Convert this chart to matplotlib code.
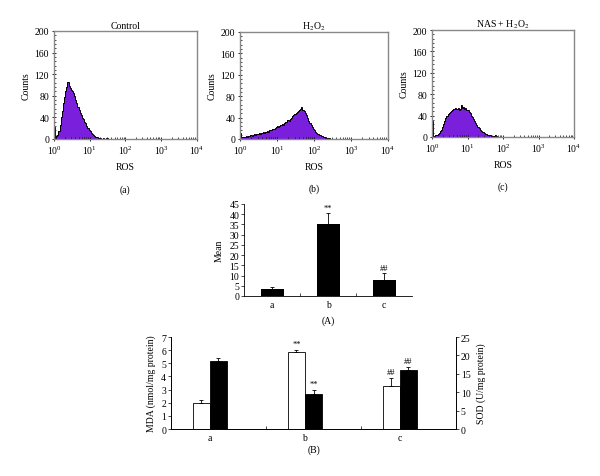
import numpy as np
import matplotlib
matplotlib.use("Agg")
import matplotlib.pyplot as plt
from matplotlib.ticker import MultipleLocator, LogLocator, NullFormatter

plt.rcParams['font.family'] = ['Liberation Serif', 'DejaVu Serif']
plt.rcParams['mathtext.fontset'] = 'stix'
plt.rcParams['font.size'] = 7

# ---------------- data ----------------
ch_per_decade = 32
hist_titles = ["Control", "H$_2$O$_2$", "NAS + H$_2$O$_2$"]
hist_panels = ["(a)", "(b)", "(c)"]
counts_control = [22, 2, 5, 8, 15, 26, 40, 52, 67, 77, 89, 96, 105, 99, 94, 91,
                  89, 85, 80, 73, 66, 60, 53, 48, 45, 39, 37, 31, 29, 24, 20, 17,
                  14, 11, 9, 7, 5, 4, 3, 2, 1, 1, 0, 0, 1, 0, 0, 1, 0]
counts_h2o2 = [12, 4, 3, 4, 3, 5, 4, 6, 5, 7, 6, 8, 9, 8, 10, 9,
               11, 10, 12, 11, 13, 12, 14, 15, 14, 16, 17, 16, 19, 18, 21, 22,
               25, 23, 24, 27, 28, 26, 29, 31, 32, 35, 34, 38, 40, 43, 44, 47,
               48, 51, 52, 54, 56, 60, 55, 53, 48, 45, 39, 34, 29, 26, 22, 19,
               16, 14, 11, 10, 8, 7, 6, 5, 4, 3, 2, 2, 1, 1, 0]
counts_nas = [30, 1, 2, 3, 4, 6, 8, 11, 14, 19, 24, 29, 35, 40, 43, 44,
              47, 48, 50, 52, 53, 54, 52, 55, 51, 53, 59, 55, 57, 53, 55, 51,
              50, 46, 44, 40, 37, 34, 30, 26, 23, 19, 16, 14, 12, 10, 9, 7,
              6, 5, 4, 3, 3, 2, 2, 1, 2, 3, 1, 0]
hist_counts = [counts_control, counts_h2o2, counts_nas]

groups = ["a", "b", "c"]
mean_vals = [3.6, 35.0, 7.8]
mean_err = [1.0, 5.5, 3.2]
mean_marks = ["", "**", "##"]

mda_vals = [1.98, 5.88, 3.25]
mda_err = [0.25, 0.16, 0.63]
mda_marks = ["", "**", "##"]
sod_vals = [18.6, 9.5, 16.1]
sod_err = [0.6, 1.1, 0.7]
sod_marks = ["", "**", "##"]

# ---------------- figure ----------------
fig = plt.figure(figsize=(6.0, 4.77), dpi=100)
purple = '#7a1fdc'

hist_boxes = [(0.090, 0.7065, 0.238, 0.2265),
              (0.400, 0.7065, 0.2467, 0.2245),
              (0.720, 0.7107, 0.2367, 0.2243)]

for box, counts, title, pl in zip(hist_boxes, hist_counts, hist_titles, hist_panels):
    ax = fig.add_axes(box)
    edges = 10 ** (np.arange(len(counts) + 1) / ch_per_decade)
    ax.stairs(counts, edges, fill=True, color=purple, baseline=0)
    ax.stairs(counts, edges, fill=False, color='black', linewidth=0.7, baseline=0)
    ax.set_xscale('log')
    ax.set_xlim(1, 1e4)
    ax.set_ylim(0, 200)
    ax.yaxis.set_major_locator(MultipleLocator(40))
    ax.yaxis.set_minor_locator(MultipleLocator(8))
    ax.xaxis.set_major_locator(LogLocator(base=10, numticks=10))
    ax.xaxis.set_minor_locator(LogLocator(base=10, subs=np.arange(2, 10), numticks=10))
    ax.xaxis.set_minor_formatter(NullFormatter())
    ax.tick_params(axis='both', which='major', direction='inout', length=3, width=0.6, pad=2)
    ax.tick_params(axis='both', which='minor', direction='in', length=1.5, width=0.5)
    for s in ax.spines.values():
        s.set_color('#888888')
        s.set_linewidth(1.0)
    ax.set_title(title, fontsize=7, pad=2)
    ax.set_xlabel("ROS", labelpad=4)
    ax.set_ylabel("Counts", labelpad=3)
    ax.text(0.5, -0.46, pl, transform=ax.transAxes, ha='center', va='center', fontsize=7)

# ---------------- Mean chart ----------------
axm = fig.add_axes((0.4067, 0.3774, 0.28, 0.1929))
xm = np.arange(len(groups))
axm.bar(xm, mean_vals, width=0.41, color='black')
axm.errorbar(xm, mean_vals, yerr=[np.zeros(len(mean_err)), mean_err], fmt='none',
             ecolor='black', elinewidth=0.6, capsize=1.5, capthick=0.6)
for x, v, e, m in zip(xm, mean_vals, mean_err, mean_marks):
    if m:
        axm.text(x, v + e + 0.6, m, ha='center', va='bottom', fontsize=6)
axm.set_xlim(-0.5, 2.5)
axm.set_ylim(0, 45)
axm.yaxis.set_major_locator(MultipleLocator(5))
axm.set_xticks(xm)
axm.set_xticklabels(groups)
axm.set_xticks([0.5, 1.5], minor=True)
axm.tick_params(axis='x', which='major', length=0, pad=3)
axm.tick_params(axis='x', which='minor', direction='in', length=2, width=0.5)
axm.tick_params(axis='y', direction='out', length=2, width=0.5, pad=1.5)
axm.spines['top'].set_visible(False)
axm.spines['right'].set_visible(False)
for s in ['left', 'bottom']:
    axm.spines[s].set_linewidth(0.6)
axm.set_ylabel("Mean", labelpad=4)
axm.text(0.5, -0.26, "(A)", transform=axm.transAxes, ha='center', va='center', fontsize=7)

# ---------------- MDA / SOD chart ----------------
axb = fig.add_axes((0.285, 0.0985, 0.475, 0.1929))
axr = axb.twinx()
xb = np.arange(len(groups))
bw = 0.18
axb.bar(xb - bw / 2, mda_vals, width=bw, color='white', edgecolor='black', linewidth=0.6)
axb.errorbar(xb - bw / 2, mda_vals, yerr=[np.zeros(3), mda_err], fmt='none',
             ecolor='black', elinewidth=0.6, capsize=1.5, capthick=0.6)
axr.bar(xb + bw / 2, sod_vals, width=bw, color='black', edgecolor='black', linewidth=0.6)
axr.errorbar(xb + bw / 2, sod_vals, yerr=[np.zeros(3), sod_err], fmt='none',
             ecolor='black', elinewidth=0.6, capsize=1.5, capthick=0.6)
for x, v, e, m in zip(xb, mda_vals, mda_err, mda_marks):
    if m:
        axb.text(x - bw / 2, v + e + 0.12, m, ha='center', va='bottom', fontsize=6)
for x, v, e, m in zip(xb, sod_vals, sod_err, sod_marks):
    if m:
        axr.text(x + bw / 2, v + e + 0.5, m, ha='center', va='bottom', fontsize=6)
axb.set_xlim(-0.41, 2.59)
axb.set_ylim(0, 7)
axr.set_ylim(0, 25)
axb.yaxis.set_major_locator(MultipleLocator(1))
axr.yaxis.set_major_locator(MultipleLocator(5))
axb.set_xticks(xb)
axb.set_xticklabels(groups)
axb.set_xticks([0.59, 1.59], minor=True)
axb.tick_params(axis='x', which='major', length=0, pad=3)
axb.tick_params(axis='x', which='minor', direction='in', length=2, width=0.5)
axb.tick_params(axis='y', direction='out', length=2, width=0.5, pad=1.5)
axr.tick_params(axis='y', direction='out', length=2, width=0.5, pad=1.5)
for a in (axb, axr):
    a.spines['top'].set_visible(False)
    for s in ['left', 'bottom', 'right']:
        a.spines[s].set_linewidth(0.6)
axb.set_ylabel("MDA (nmol/mg protein)", labelpad=4)
axr.set_ylabel("SOD (U/mg protein)", labelpad=4)
axb.text(0.5, -0.22, "(B)", transform=axb.transAxes, ha='center', va='center', fontsize=7)

fig.savefig("out.png", dpi=100)
